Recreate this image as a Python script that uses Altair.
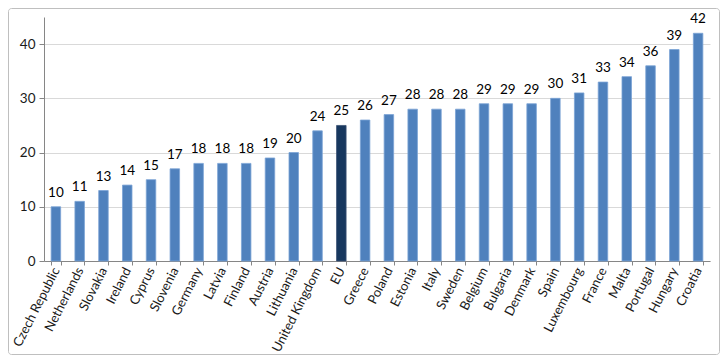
import altair as alt
import pandas as pd

countries = ["Czech Republic", "Netherlands", "Slovakia", "Ireland", "Cyprus", "Slovenia",
             "Germany", "Latvia", "Finland", "Austria", "Lithuania", "United Kingdom", "EU",
             "Greece", "Poland", "Estonia", "Italy", "Sweden", "Belgium", "Bulgaria", "Denmark",
             "Spain", "Luxembourg", "France", "Malta", "Portugal", "Hungary", "Croatia"]
values = [10, 11, 13, 14, 15, 17, 18, 18, 18, 19, 20, 24, 25, 26, 27, 28, 28, 28, 29, 29,
          29, 30, 31, 33, 34, 36, 39, 42]
y_ticks = [0, 10, 20, 30, 40]

df = pd.DataFrame({"country": countries, "value": values})
df["group"] = ["EU" if c == "EU" else "Member" for c in countries]

FONT = "Lato"
W, H = 666, 244
PAD = {"left": 36, "top": 9, "right": 10, "bottom": 95}

x = alt.X("country:N", sort=countries, title=None,
          scale=alt.Scale(paddingInner=0.6, paddingOuter=0.3),
          axis=alt.Axis(labelAngle=-63, labelAlign="right", labelBaseline="middle",
                        labelFontSize=13, labelFont=FONT, labelColor="#1a1a1a",
                        labelPadding=3, tickBand="extent", tickSize=4,
                        tickColor="#868686", domainColor="#868686", grid=False))
y = alt.Y("value:Q", title=None,
          scale=alt.Scale(domain=[0, 45], nice=False),
          axis=alt.Axis(values=y_ticks, labelFontSize=13.5, labelFont=FONT,
                        labelColor="#1a1a1a", labelPadding=4, tickSize=5,
                        tickColor="#868686", domainColor="#868686",
                        gridColor="#D9D9D9", gridWidth=1))

bars = alt.Chart(df).mark_bar(strokeWidth=0.8).encode(
    x=x, y=y,
    color=alt.Color("group:N", legend=None,
                    scale=alt.Scale(domain=["Member", "EU"], range=["#4F81BD", "#17375E"])),
    stroke=alt.Stroke("group:N", legend=None,
                      scale=alt.Scale(domain=["Member", "EU"], range=["#7BA3D6", "#3A5273"])),
)

labels = alt.Chart(df).mark_text(dy=-7, fontSize=13.5, font=FONT, color="#000000",
                                 baseline="bottom").encode(
    x=alt.X("country:N", sort=countries),
    y="value:Q",
    text="value:Q",
)

frame = alt.Chart(pd.DataFrame({"a": [0]})).mark_rect(
    fill=None, stroke="#BFBFBF", strokeWidth=1, cornerRadius=3
).encode(
    x=alt.value(-PAD["left"] + 0.5),
    x2=alt.value(W + PAD["right"] - 0.5),
    y=alt.value(-PAD["top"] + 0.5),
    y2=alt.value(H + PAD["bottom"] - 1.5),
)

chart = alt.layer(bars, labels, frame).properties(
    width=W, height=H, padding=PAD, autosize=alt.AutoSizeParams(type="none"),
    background="white"
).configure_view(stroke=None)

chart.save("out.html", embed_options={"renderer": "svg", "actions": False})
